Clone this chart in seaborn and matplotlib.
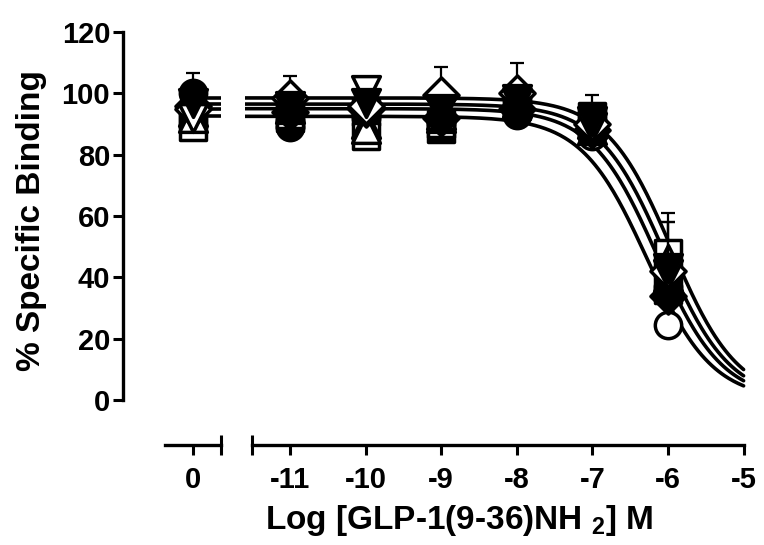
import numpy as np
import pandas as pd
import matplotlib
matplotlib.use('Agg')
import matplotlib.pyplot as plt
import seaborn as sns

# log concentration of each dose (0 = no ligand, drawn on its own axis segment)
log_conc = [0, -11, -10, -9, -8, -7, -6]

# % specific binding per data set, and upper SEM bars
filled_circle = [100, 89, 93, 91, 93, 89, 37]
filled_circle_err = [6.5, 2, 2, 2, 2, 2, 3]
open_circle = [95, 91, 92, 90, 94, 86, 24.5]
open_circle_err = [2, 2, 2, 2, 2, 2, 2]
filled_square = [93, 92, 94, 88.5, 96, 92.5, 36]
filled_square_err = [2, 2, 2, 2, 3, 7, 3]
open_square = [89, 93, 86, 90, 98, 91, 48]
open_square_err = [2, 2, 2, 2, 3, 3, 13]
filled_triangle = [94, 95, 90, 92, 97, 88, 40]
filled_triangle_err = [2, 2, 2, 2, 3, 4, 2]
open_triangle = [92, 98, 88.5, 93, 99, 90, 46]
open_triangle_err = [2, 2, 2, 2, 3, 2, 12]
filled_diamond = [96, 94, 95, 92, 95, 88, 34]
filled_diamond_err = [2, 2, 2, 2, 2, 2, 3]
open_diamond = [95, 98.5, 96, 99.5, 100, 90, 42]
open_diamond_err = [2, 7, 2, 9, 10, 2, 2]
open_down = [92, 96, 101, 94, 97, 89, 41]
open_down_err = [2, 2, 4, 2, 3, 3, 2]
filled_down = [97, 95, 97, 95, 98, 91, 43]
filled_down_err = [2, 2, 2, 2, 2, 2, 15]

# fitted sigmoid curves (top, bottom, logIC50, hill slope)
fit_top = [98.5, 96.5, 95, 92.5]
fit_bottom = [0, 0, 0, 0]
fit_logic50 = [-5.95, -6.05, -6.15, -6.28]
fit_hill = [1, 1, 1, 1]

y_ticks = [0, 20, 40, 60, 80, 100, 120]
x_ticks_main = [-11, -10, -9, -8, -7, -6, -5]

sns.set_style('ticks', {'axes.edgecolor': 'black', 'xtick.color': 'black',
                        'ytick.color': 'black', 'text.color': 'black'})
plt.rcParams['font.family'] = ['Liberation Sans', 'DejaVu Sans']
plt.rcParams['font.weight'] = 'bold'
plt.rcParams['mathtext.fontset'] = 'custom'
plt.rcParams['mathtext.bf'] = 'Liberation Sans:bold'
plt.rcParams['mathtext.rm'] = 'Liberation Sans:bold'

W, H = 764, 545
fig = plt.figure(figsize=(W / 100, H / 100), dpi=100)

# pixel layout: ~75.6 px per log unit, y 0 -> 400 px, 120 -> 32 px
px_unit = 75.6
y_lo, y_hi = -5, 125
ppy = (400 - 32) / 120
ax_top = 32 - (y_hi - 120) * ppy
ax_bot = 400 - (y_lo - 0) * ppy
x0_px = 193
xm11_px = 290

ax1_lim = (-0.93, 0.37)
ax2_lim = (-11.6, -4.8)
ax1_l = x0_px + ax1_lim[0] * px_unit
ax1_r = x0_px + ax1_lim[1] * px_unit
ax2_l = xm11_px + (ax2_lim[0] + 11) * px_unit
ax2_r = xm11_px + (ax2_lim[1] + 11) * px_unit

ax1 = fig.add_axes([ax1_l / W, 1 - ax_bot / H, (ax1_r - ax1_l) / W, (ax_bot - ax_top) / H])
ax2 = fig.add_axes([ax2_l / W, 1 - ax_bot / H, (ax2_r - ax2_l) / W, (ax_bot - ax_top) / H])
for ax in (ax1, ax2):
    ax.set_ylim(y_lo, y_hi)
    ax.patch.set_visible(False)
ax1.set_xlim(*ax1_lim)
ax2.set_xlim(*ax2_lim)

series = [
    (filled_circle, filled_circle_err, 'o', 'black', 360),
    (open_circle, open_circle_err, 'o', 'white', 360),
    (filled_square, filled_square_err, 's', 'black', 330),
    (open_square, open_square_err, 's', 'white', 330),
    (filled_triangle, filled_triangle_err, '^', 'black', 400),
    (open_triangle, open_triangle_err, '^', 'white', 400),
    (filled_diamond, filled_diamond_err, 'D', 'black', 320),
    (open_diamond, open_diamond_err, 'D', 'white', 320),
    (open_down, open_down_err, 'v', 'white', 400),
    (filled_down, filled_down_err, 'v', 'black', 400),
]

# fitted curves
xs = np.linspace(-11.6, -5, 300)
rows = []
for i in range(len(fit_top)):
    ys = fit_bottom[i] + (fit_top[i] - fit_bottom[i]) / (1 + 10 ** ((xs - fit_logic50[i]) * fit_hill[i]))
    rows.append(pd.DataFrame({'x': xs, 'y': ys, 'fit': i}))
    seg = pd.DataFrame({'x': [0, 0.37], 'y': [fit_top[i]] * 2, 'fit': i})
    sns.lineplot(data=seg, x='x', y='y', color='black', lw=2.6, ax=ax1, zorder=2)
curve_df = pd.concat(rows)
sns.lineplot(data=curve_df, x='x', y='y', units='fit', estimator=None,
             color='black', lw=2.6, ax=ax2, zorder=2)

# points with upper error bars
for k, (vals, errs, mk, face, size) in enumerate(series):
    for ax, sl in ((ax1, slice(0, 1)), (ax2, slice(1, None))):
        xv = log_conc[sl]
        yv = vals[sl]
        ev = errs[sl]
        ax.errorbar(xv, yv, yerr=[[0] * len(ev), ev], fmt='none', ecolor='black',
                    elinewidth=1.6, capsize=5, capthick=1.6, zorder=3 + 2 * k)
        sns.scatterplot(x=xv, y=yv, marker=mk, s=size, color=face, edgecolor='black',
                        linewidth=2.5, ax=ax, zorder=4 + 2 * k, legend=False)

# axes styling
tick_kw = dict(width=2.2, length=7, labelsize=21, direction='out', colors='black')
ax1.spines['left'].set_bounds(0, 120)
ax1.spines['left'].set_linewidth(2.4)
ax1.set_yticks(y_ticks)
ax1.tick_params(axis='y', pad=2, **tick_kw)
ax1.set_xticks([0])
ax1.set_xticklabels(['0'])
ax1.tick_params(axis='x', pad=8, **tick_kw)
ax1.set_xticks([0.37], minor=True)
ax1.tick_params(axis='x', which='minor', direction='inout', length=14, width=2.2)
ax1.spines['bottom'].set_bounds(-0.37, 0.37)

ax2.spines['left'].set_visible(False)
ax2.set_yticks([])
ax2.set_xticks(x_ticks_main)
ax2.set_xticklabels([str(t) for t in x_ticks_main])
ax2.tick_params(axis='x', pad=8, **tick_kw)
ax2.set_xticks([-11.5], minor=True)
ax2.tick_params(axis='x', which='minor', direction='inout', length=14, width=2.2)
ax2.spines['bottom'].set_bounds(-11.5, -5)

for ax in (ax1, ax2):
    ax.spines['top'].set_visible(False)
    ax.spines['right'].set_visible(False)
    ax.spines['bottom'].set_linewidth(2.4)
    ax.spines['bottom'].set_position(('outward', (445 - ax_bot) * 0.72))
    ax.set_xlabel('')
    ax.set_ylabel('')
    for lab in ax.get_xticklabels() + ax.get_yticklabels():
        lab.set_fontweight('bold')

fig.text(32 / W, 1 - 221 / H, '% Specific Binding', rotation=90, ha='center', va='center',
         fontsize=24, fontweight='bold')
fig.text(459 / W, 1 - 520 / H, r'Log [GLP-1(9-36)NH $_{\mathbf{2}}$] M', ha='center', va='center',
         fontsize=24, fontweight='bold')

fig.savefig('out.png', dpi=100)
